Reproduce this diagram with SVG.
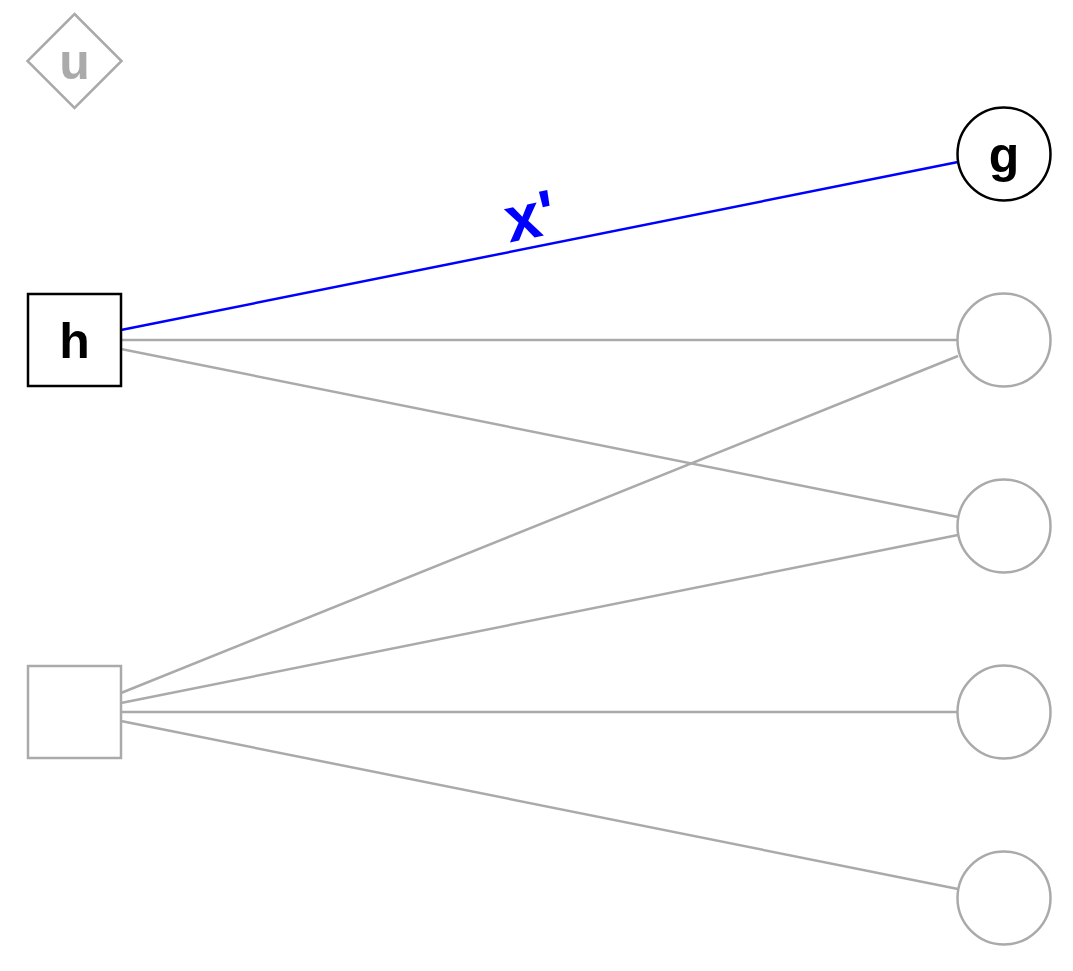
<svg xmlns="http://www.w3.org/2000/svg" width="1073" height="971" viewBox="0 0 1073 971">
<style>
.g{fill:#fff;stroke:#aaaaaa;stroke-width:2.5}
.k{fill:#fff;stroke:#000;stroke-width:2.5}
.t{font-family:"Liberation Sans",Arial,sans-serif;font-weight:bold;font-size:50px;text-anchor:middle;dominant-baseline:central}
.e{stroke:#aaaaaa;stroke-width:2.5;fill:none}
</style>
<g id="edges">
<line class="e" x1="121" y1="340" x2="958" y2="340"/>
<line class="e" x1="121" y1="349" x2="958" y2="517"/>
<line class="e" x1="121" y1="693" x2="958" y2="356"/>
<line class="e" x1="121" y1="703" x2="958" y2="535"/>
<line class="e" x1="121" y1="712" x2="958" y2="712"/>
<line class="e" x1="121" y1="721" x2="958" y2="889"/>
<line x1="121" y1="330" x2="958" y2="162" stroke="#0000ff" stroke-width="2.5"/>
<text class="t" x="530" y="216" fill="#0000ff" style="font-size:64px" transform="rotate(-11.35 530 216)">x'</text>
</g>
<g id="u">
<polygon class="g" points="74.5,14 121.5,61 74.5,108 27.5,61"/>
<text class="t" x="74.5" y="62" fill="#aaaaaa">u</text>
</g>
<g id="h">
<rect class="k" x="28" y="294" width="93" height="92"/>
<text class="t" x="74.5" y="341" fill="#000">h</text>
</g>
<g id="s2">
<rect class="g" x="28" y="666" width="93" height="92"/>
</g>
<g id="g">
<circle class="k" cx="1004" cy="154" r="46.5"/>
<text class="t" x="1004" y="155" fill="#000">g</text>
</g>
<g id="c1"><circle class="g" cx="1004" cy="340" r="46.5"/></g>
<g id="c2"><circle class="g" cx="1004" cy="526" r="46.5"/></g>
<g id="c3"><circle class="g" cx="1004" cy="712" r="46.5"/></g>
<g id="c4"><circle class="g" cx="1004" cy="898" r="46.5"/></g>
</svg>
